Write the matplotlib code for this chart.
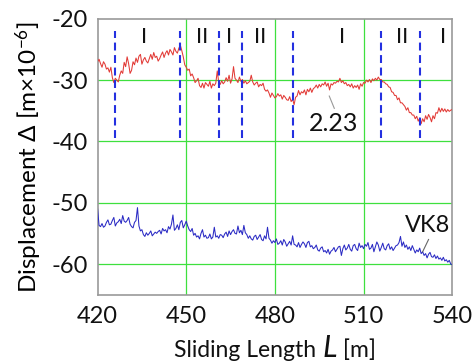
import numpy as np
import matplotlib
matplotlib.use("Agg")
import matplotlib.pyplot as plt

plt.rcParams['font.family'] = ['Lato', 'DejaVu Sans']
plt.rcParams['axes.unicode_minus'] = False
plt.rcParams['mathtext.fontset'] = 'custom'
plt.rcParams['mathtext.rm'] = 'Lato'
plt.rcParams['mathtext.it'] = 'Lato:italic'

# Displacement of the 2.23 run (every 0.5 m from 420 m to 540 m)
disp_223 = [
    -27.0, -26.6, -27.3, -27.9, -27.0, -27.4, -28.2, -28.0, -28.7, -27.9, -29.6, -30.4, -29.7, -30.0, -30.3, -29.2, -28.5, -28.9, -27.1, -27.8,
    -26.2, -27.3, -28.9, -28.4, -27.0, -27.5, -26.4, -27.1, -26.1, -25.8, -27.4, -26.7, -26.3, -26.9, -27.2, -26.5, -25.8, -26.6, -25.5, -26.3,
    -26.1, -26.9, -26.5, -25.9, -25.4, -26.3, -25.6, -25.2, -25.9, -25.0, -25.4, -25.9, -24.7, -25.3, -25.6, -24.8, -24.3, -25.2, -26.2, -27.5,
    -27.9, -28.4, -28.2, -29.3, -29.0, -29.6, -30.4, -30.1, -29.7, -30.9, -31.2, -30.5, -31.3, -30.4, -30.7, -31.0, -30.2, -31.3, -30.6, -30.9,
    -30.5, -28.5, -30.4, -30.7, -30.1, -30.6, -30.3, -29.6, -30.2, -29.2, -30.5, -29.8, -27.8, -29.7, -30.0, -30.4, -29.5, -30.2, -29.9, -30.5,
    -30.1, -30.6, -30.4, -30.2, -29.2, -30.3, -30.8, -30.5, -30.3, -31.1, -30.7, -30.9, -30.5, -31.5, -31.8, -31.6, -32.1, -32.8, -32.1, -32.5,
    -32.9, -32.7, -32.2, -32.6, -32.4, -33.1, -32.5, -32.8, -33.2, -33.3, -32.7, -33.5, -33.1, -34.0, -32.8, -32.6, -31.7, -32.4, -31.9, -32.1,
    -31.6, -32.4, -31.5, -31.9, -31.3, -32.0, -31.4, -31.2, -30.8, -31.3, -30.7, -31.1, -30.6, -30.8, -30.3, -31.0, -30.5, -31.6, -30.6, -30.8,
    -30.4, -30.5, -30.2, -30.3, -29.7, -30.4, -30.1, -30.6, -30.4, -30.9, -30.7, -31.1, -30.6, -31.3, -30.9, -31.2, -30.8, -31.5, -30.6, -31.0,
    -30.4, -30.5, -30.0, -30.3, -29.9, -30.4, -29.8, -30.1, -29.7, -30.0, -29.5, -29.9, -29.9, -30.3, -30.3, -30.6, -30.7, -31.1, -31.2, -31.9,
    -32.0, -32.5, -32.5, -33.2, -32.9, -33.7, -33.7, -34.0, -34.3, -34.9, -34.5, -35.3, -35.3, -35.7, -35.7, -36.3, -35.9, -36.7, -36.2, -37.1,
    -36.3, -36.8, -35.8, -36.4, -35.6, -36.1, -36.8, -35.8, -36.3, -35.3, -35.4, -34.5, -35.2, -34.6, -35.1, -34.7, -35.2, -34.8, -35.1, -34.9,
    -34.8,
]

# Displacement of the VK8 run (every 0.5 m from 420 m to 540 m)
disp_vk8 = [
    -51.0, -53.7, -53.9, -53.4, -54.0, -53.8, -53.2, -52.8, -53.6, -53.5, -52.9, -52.4, -53.8, -53.3, -53.1, -52.7, -53.4, -52.1, -53.0, -53.2,
    -52.9, -52.4, -53.5, -53.9, -54.1, -53.2, -52.9, -50.8, -53.8, -54.6, -54.4, -55.2, -55.5, -54.9, -55.3, -55.0, -54.6, -55.4, -55.1, -54.8,
    -55.0, -54.7, -54.5, -55.1, -54.2, -54.6, -54.4, -54.9, -53.9, -54.3, -53.5, -52.0, -54.5, -54.2, -53.6, -54.4, -53.2, -52.9, -54.1, -53.6,
    -53.0, -53.8, -54.4, -54.7, -54.2, -55.3, -55.0, -55.6, -55.4, -55.9, -55.0, -54.4, -55.6, -55.3, -55.8, -55.7, -55.1, -55.9, -55.6, -54.0,
    -55.6, -55.4, -55.8, -55.2, -55.3, -55.7, -55.1, -54.8, -55.5, -54.6, -55.2, -54.7, -54.4, -55.0, -55.1, -53.8, -54.9, -54.5, -55.2, -53.7,
    -54.9, -55.2, -55.8, -55.4, -55.9, -56.1, -55.5, -55.3, -56.0, -55.6, -55.2, -56.0, -56.2, -55.4, -55.9, -54.0, -55.8, -56.1, -56.6, -56.2,
    -56.5, -55.9, -56.8, -56.6, -56.2, -56.9, -56.0, -56.4, -57.1, -56.7, -56.3, -56.9, -55.4, -56.8, -56.9, -57.2, -56.5, -57.3, -56.8, -56.4,
    -56.7, -57.3, -56.5, -56.3, -57.2, -57.0, -57.5, -57.3, -56.9, -57.7, -57.9, -57.4, -57.2, -58.0, -57.8, -58.2, -57.6, -58.4, -57.9, -57.7,
    -57.3, -58.0, -57.6, -57.2, -57.1, -58.6, -57.5, -56.9, -57.7, -57.4, -56.8, -57.6, -57.9, -57.0, -56.8, -57.5, -57.8, -56.6, -57.3, -57.0,
    -57.5, -56.8, -57.1, -56.5, -57.6, -57.4, -56.8, -58.0, -57.2, -56.4, -56.9, -57.9, -57.3, -56.6, -57.5, -57.7, -57.0, -56.7, -57.6, -57.2,
    -57.8, -57.4, -57.0, -56.9, -56.5, -55.5, -57.1, -56.4, -57.3, -56.9, -57.6, -57.2, -57.8, -57.0, -57.6, -58.2, -57.7, -58.0, -57.4, -58.3,
    -58.0, -58.6, -58.3, -59.0, -58.4, -58.1, -58.8, -58.9, -58.5, -59.1, -58.7, -59.2, -59.0, -59.4, -58.9, -59.5, -59.3, -59.7, -59.4, -60.0,
    -60.1,
]

# Stage boundaries (m) and the stage marks between them
boundaries = [426, 448, 461, 469, 486, 516, 529]
stage_pos = [435.8, 455.3, 464.4, 475.1, 502.7, 523.2, 536.9]
stage_txt = ['I', 'II', 'I', 'II', 'I', 'II', 'I']

x_ticks = [420, 450, 480, 510, 540]
y_ticks = [-20, -30, -40, -50, -60]

L_223 = np.linspace(420, 540, len(disp_223))
L_vk8 = np.linspace(420, 540, len(disp_vk8))

fig = plt.figure(figsize=(4.76, 3.62), dpi=100)
ax = fig.add_axes([0.205, 0.186, 0.745, 0.762])

ax.set_xlim(420, 540)
ax.set_ylim(-65, -20)

for xv in x_ticks[1:-1]:
    ax.axvline(xv, color='#3ee03e', lw=0.9, zorder=1)
for yv in y_ticks[1:]:
    ax.axhline(yv, color='#3ee03e', lw=0.9, zorder=1)

ax.plot(L_223, disp_223, color='#e23a36', lw=0.75, zorder=3)
ax.plot(L_vk8, disp_vk8, color='#2a2ac4', lw=0.75, zorder=3)

ax.vlines(boundaries, -39.5, -22.0, colors='#2430e0', linestyles=(0, (3.8, 2.2)),
          lw=1.5, zorder=4)
for xp, t in zip(stage_pos, stage_txt):
    ax.text(xp, -22.9, t, ha='center', va='center', fontsize=16, color='#111111')

# labels with leader lines
ax.plot([498.4, 500.1], [-32.6, -34.6], color='#999999', lw=0.8, zorder=5)
ax.text(499.7, -37.0, '2.23', ha='center', va='center', fontsize=18, color='#111111')
ax.plot([532.0, 530.0], [-56.0, -58.0], color='#666666', lw=0.8, zorder=5)
ax.text(531.5, -53.7, 'VK8', ha='center', va='center', fontsize=17, color='#111111')

ax.set_xticks(x_ticks)
ax.set_xticklabels([str(v) for v in x_ticks], fontsize=17)
ax.set_yticks(y_ticks)
ax.set_yticklabels([str(v) for v in y_ticks], fontsize=17)
ax.tick_params(length=0, pad=7, colors='#111111')
ax.tick_params(axis='x', pad=8)

for s in ax.spines.values():
    s.set_color('#999999')
    s.set_linewidth(1.2)

ax.set_ylabel(r'Displacement $\Delta$ [m$\times$10$^{-6}$]', fontsize=17.5, labelpad=5)

# x-axis title: regular text with a larger italic L, centred under the axes
renderer = fig.canvas.get_renderer()
parts = [('Sliding Length ', 'normal', 16.5), ('L', 'italic', 22), (' [m]', 'normal', 16.5)]
texts = [fig.text(0, 0.014, s, fontsize=fs, style=st, va='baseline', color='#111111')
         for s, st, fs in parts]
widths = [t.get_window_extent(renderer).width for t in texts]
fig_w = fig.get_figwidth() * fig.dpi
x0 = (0.205 + 0.745 / 2) * fig_w - sum(widths) / 2
for t, w in zip(texts, widths):
    t.set_x(x0 / fig_w)
    x0 += w

fig.savefig('out.png', dpi=100)
